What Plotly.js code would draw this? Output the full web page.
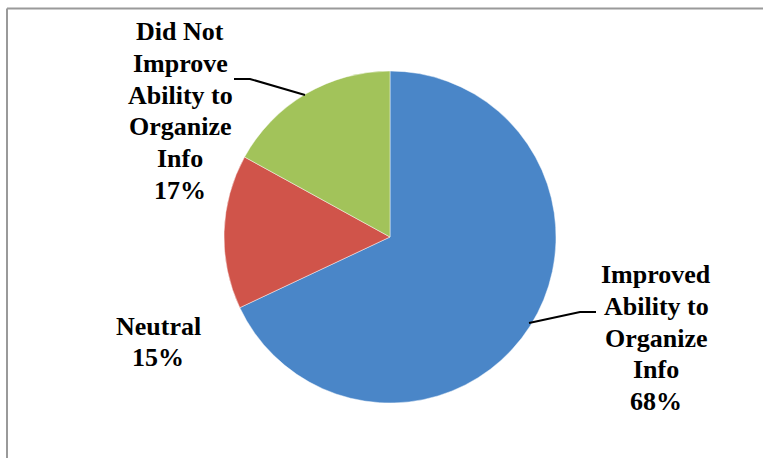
<!DOCTYPE html>
<html>
<head>
<meta charset="utf-8">
<script src="https://cdn.plot.ly/plotly-3.0.1.min.js"></script>
<style>
html,body{margin:0;padding:0;background:#fff;}
#chart{width:763px;height:458px;}
</style>
</head>
<body>
<div id="chart"></div>
<script>
// ---- data ----
const categories = ["Improved Ability to Organize Info", "Neutral", "Did Not Improve Ability to Organize Info"];
const values = [68, 15, 17];
const colors = ["#4A86C8", "#D0544A", "#A2C35A"];

// ---- helpers ----
const W = 763, H = 458;
const px = x => x / W;
const py = y => 1 - y / H;

function wrap(text, maxLen) {
  const words = text.split(" ");
  const lines = [];
  let cur = "";
  words.forEach(w => {
    const trial = cur ? cur + " " + w : w;
    if (trial.length > maxLen && cur) { lines.push(cur); cur = w; }
    else cur = trial;
  });
  if (cur) lines.push(cur);
  return lines;
}

const total = values.reduce((a, b) => a + b, 0);
const labelLines = categories.map((c, i) => wrap(c, 10).concat([Math.round(values[i] / total * 100) + "%"]));

// label block centres (pixels) per category, and line pitch
const labelPos = [[656, 338], [158, 342], [180, 111]];
const pitch = 31.7;

const annotations = [];
labelLines.forEach((lines, i) => {
  const n = lines.length;
  lines.forEach((l, k) => {
    annotations.push({
      xref: "paper", yref: "paper",
      x: px(labelPos[i][0]), y: py(labelPos[i][1] + (k - (n - 1) / 2) * pitch),
      xanchor: "center", yanchor: "middle",
      text: "<b>" + l + "</b>", showarrow: false, align: "center",
      font: {family: "Liberation Serif", size: 26, color: "#000"}
    });
  });
});

function pathOf(pts) {
  return pts.map((p, i) => (i ? "L" : "M") + px(p[0]) + "," + py(p[1])).join(" ");
}

const shapes = [
  {type: "line", xref: "paper", yref: "paper", x0: px(7), x1: px(770), y0: py(8.5), y1: py(8.5),
   line: {color: "#9a9a9a", width: 2}},
  {type: "line", xref: "paper", yref: "paper", x0: px(7), x1: px(7), y0: py(8.5), y1: py(470),
   line: {color: "#9a9a9a", width: 2}},
  {type: "path", xref: "paper", yref: "paper", path: pathOf([[596, 312], [580, 312], [529, 323]]),
   line: {color: "#000", width: 2}},
  {type: "path", xref: "paper", yref: "paper", path: pathOf([[234, 79], [250, 79], [305, 95]]),
   line: {color: "#000", width: 2}}
];

const trace = {
  type: "pie",
  labels: categories,
  values: values,
  sort: false,
  direction: "clockwise",
  rotation: 0,
  textinfo: "none",
  hoverinfo: "label+percent",
  marker: {colors: colors, line: {color: "rgba(255,255,255,0.45)", width: 1}},
  domain: {x: [px(224), px(556)], y: [py(403), py(71)]},
  showlegend: false
};

const layout = {
  width: W, height: H,
  margin: {l: 0, r: 0, t: 0, b: 0},
  paper_bgcolor: "#ffffff",
  plot_bgcolor: "#ffffff",
  showlegend: false,
  annotations: annotations,
  shapes: shapes
};

Plotly.newPlot("chart", [trace], layout, {displayModeBar: false, staticPlot: true});
</script>
</body>
</html>
